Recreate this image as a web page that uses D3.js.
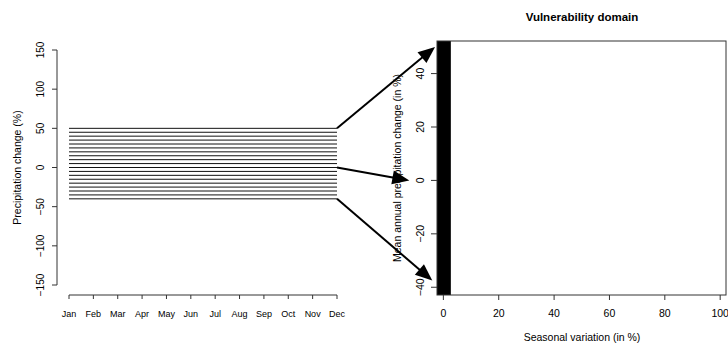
<!DOCTYPE html>
<html>
<head>
<meta charset="utf-8">
<script src="https://cdn.jsdelivr.net/npm/d3@7"></script>
<style>
body { margin: 0; background: #fff; }
text { font-family: "Liberation Sans", Arial, sans-serif; fill: #000; }
</style>
</head>
<body>
<div id="container"></div>
<script>
// left panel: monthly precipitation change scenarios
const months = ["Jan","Feb","Mar","Apr","May","Jun","Jul","Aug","Sep","Oct","Nov","Dec"];
const levels = [50,45,40,35,30,25,20,15,10,5,0,-5,-10,-15,-20,-25,-30,-35,-40];
const left_yticks = [-150,-100,-50,0,50,100,150];

// right panel: vulnerability domain
const right_xticks = [0,20,40,60,80,100];
const right_yticks = [-40,-20,0,20,40];
const domain_x = [-2.3, 2.7];      // filled region, seasonal variation
const domain_y = [-42.9, 52.2];    // filled region, mean annual change

// arrows: from scenario level (Dec) to point in right panel
const arrow_from = [50, 0, -40];
const arrow_to_x = [-3, -12.3, -4];
const arrow_to_y = [50, 0, -37.5];

const W = 728, H = 347;

var svg = d3.select("#container").append("svg")
    .attr("width", W)
    .attr("height", H);

// ---- left panel
var lx = d3.scalePoint().domain(months).range([69, 337]);
var ly = d3.scaleLinear().domain([-150, 150]).range([285, 50]);

var gl = svg.append("g");

gl.selectAll("line.lev")
    .data(levels)
    .enter().append("line")
    .attr("x1", lx("Jan"))
    .attr("x2", lx("Dec"))
    .attr("y1", d => ly(d))
    .attr("y2", d => ly(d))
    .style("stroke", "#111")
    .style("stroke-width", 1);

// y axis
var gya = gl.append("g").attr("transform", "translate(57,0)");
gya.append("line")
    .attr("y1", ly(-150)).attr("y2", ly(150))
    .style("stroke", "#333");
gya.selectAll("line.t").data(left_yticks).enter().append("line")
    .attr("x1", 0).attr("x2", -5)
    .attr("y1", d => ly(d)).attr("y2", d => ly(d))
    .style("stroke", "#333");
gya.selectAll("text").data(left_yticks).enter().append("text")
    .attr("transform", d => "translate(-13," + ly(d) + ") rotate(-90)")
    .attr("text-anchor", "middle")
    .style("font-size", "10px")
    .text(d => d < 0 ? "\u2212" + Math.abs(d) : d);

gl.append("text")
    .attr("transform", "translate(21," + ly(0) + ") rotate(-90)")
    .attr("text-anchor", "middle")
    .style("font-size", "10.5px")
    .text("Precipitation change (%)");

// x axis
var gxa = gl.append("g").attr("transform", "translate(0,295)");
gxa.append("line")
    .attr("x1", lx("Jan")).attr("x2", lx("Dec"))
    .style("stroke", "#333");
gxa.selectAll("line.t").data(months).enter().append("line")
    .attr("x1", d => lx(d)).attr("x2", d => lx(d))
    .attr("y1", 0).attr("y2", 4)
    .style("stroke", "#333");
gxa.selectAll("text").data(months).enter().append("text")
    .attr("x", d => lx(d))
    .attr("y", 22)
    .attr("text-anchor", "middle")
    .style("font-size", "9px")
    .text(d => d);

// ---- right panel
var rx = d3.scaleLinear().domain([-2.3, 102.1]).range([437, 726]);
var ry = d3.scaleLinear().domain([-42.9, 52.2]).range([295, 41]);

var gr = svg.append("g");

gr.append("rect")
    .attr("x", rx(domain_x[0]))
    .attr("width", rx(domain_x[1]) - rx(domain_x[0]))
    .attr("y", ry(domain_y[1]))
    .attr("height", ry(domain_y[0]) - ry(domain_y[1]))
    .style("fill", "#000");

gr.append("rect")
    .attr("x", rx.range()[0]).attr("y", ry.range()[1])
    .attr("width", rx.range()[1] - rx.range()[0])
    .attr("height", ry.range()[0] - ry.range()[1])
    .style("fill", "none")
    .style("stroke", "#333");

gr.selectAll("line.xt").data(right_xticks).enter().append("line")
    .attr("x1", d => rx(d)).attr("x2", d => rx(d))
    .attr("y1", 295).attr("y2", 300)
    .style("stroke", "#333");
gr.selectAll("text.xt").data(right_xticks).enter().append("text")
    .attr("x", d => rx(d)).attr("y", 317)
    .attr("text-anchor", "middle")
    .style("font-size", "10.5px")
    .text(d => d);

gr.selectAll("line.yt").data(right_yticks).enter().append("line")
    .attr("x1", 437).attr("x2", 431)
    .attr("y1", d => ry(d)).attr("y2", d => ry(d))
    .style("stroke", "#333");
gr.selectAll("text.yt").data(right_yticks).enter().append("text")
    .attr("transform", d => "translate(424," + ry(d) + ") rotate(-90)")
    .attr("text-anchor", "middle")
    .style("font-size", "10.5px")
    .text(d => d < 0 ? "\u2212" + Math.abs(d) : d);

gr.append("text")
    .attr("transform", "translate(401,168) rotate(-90)")
    .attr("text-anchor", "middle")
    .style("font-size", "10.5px")
    .text("Mean annual precipitation change (in %)");

gr.append("text")
    .attr("x", 582).attr("y", 341)
    .attr("text-anchor", "middle")
    .style("font-size", "10.5px")
    .text("Seasonal variation (in %)");

gr.append("text")
    .attr("x", 582).attr("y", 21)
    .attr("text-anchor", "middle")
    .style("font-size", "11.5px")
    .style("font-weight", "bold")
    .text("Vulnerability domain");

// ---- arrows
var arrows = arrow_from.map((f, i) => ({
    x1: lx("Dec"), y1: ly(f),
    x2: rx(arrow_to_x[i]), y2: ry(arrow_to_y[i])
}));

var ga = svg.append("g");
arrows.forEach(function(a){
    var ang = Math.atan2(a.y2 - a.y1, a.x2 - a.x1);
    var len = 17, hw = 7;
    var bx = a.x2 - len * Math.cos(ang), by = a.y2 - len * Math.sin(ang);
    ga.append("line")
        .attr("x1", a.x1).attr("y1", a.y1)
        .attr("x2", bx + 3 * Math.cos(ang)).attr("y2", by + 3 * Math.sin(ang))
        .style("stroke", "#000")
        .style("stroke-width", 2);
    var pts = [
        [a.x2, a.y2],
        [bx - hw * Math.sin(ang), by + hw * Math.cos(ang)],
        [bx + hw * Math.sin(ang), by - hw * Math.cos(ang)]
    ];
    ga.append("polygon")
        .attr("points", pts.map(p => p.join(",")).join(" "))
        .style("fill", "#000");
});
</script>
</body>
</html>
